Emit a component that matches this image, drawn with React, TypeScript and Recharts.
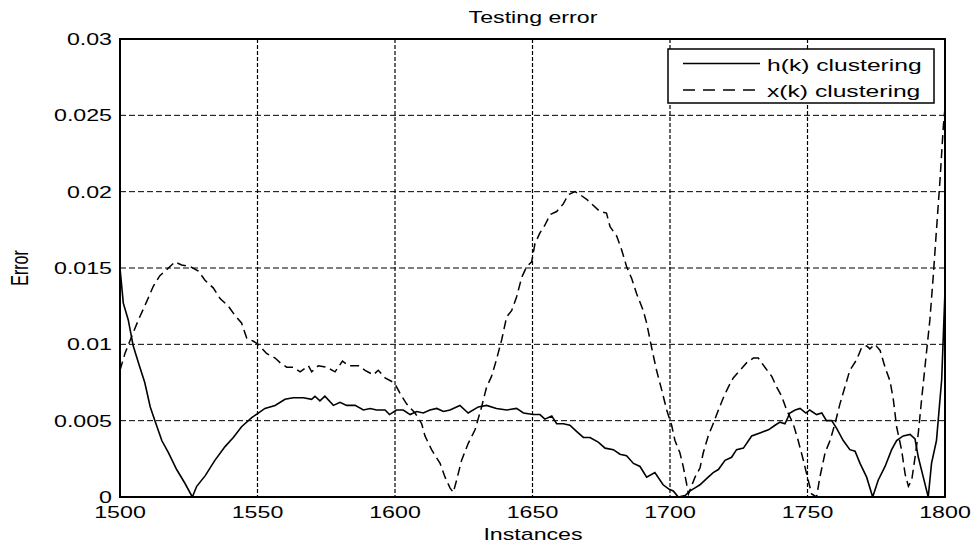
import {
  LineChart,
  Line,
  XAxis,
  YAxis,
  CartesianGrid,
  Legend,
  ReferenceArea,
} from "recharts";

// h(k) clustering (solid)
const hInstances = [
  1500, 1501.2, 1503, 1504.8, 1506.7, 1509, 1511, 1512.7, 1515.2, 1517.6,
  1520.6, 1523.6, 1526.3, 1527.9, 1531, 1534.5, 1538.2, 1541.2, 1544.2, 1547.9,
  1550.3, 1552.7, 1556.4, 1560, 1563, 1566.7, 1569.7, 1570.9, 1572.7, 1574.5,
  1577.6, 1580, 1582.4, 1585.5, 1588.5, 1591, 1593.3, 1596.4, 1598, 1600.5,
  1603, 1605.5, 1607.9, 1610.3, 1612.7, 1615.2, 1617.6, 1620, 1623.6, 1626.6,
  1630.3, 1633.3, 1636.9, 1640.6, 1644.2, 1646.7, 1650.3, 1652.7, 1654.5, 1657,
  1658.8, 1661.2, 1663.6, 1666, 1668.5, 1670.9, 1673.9, 1676.4, 1679.4, 1681.8,
  1684.2, 1686.7, 1689.1, 1691.5, 1694.5, 1697.5, 1699.7, 1701.2, 1703, 1705.5,
  1707.3, 1709.1, 1710.9, 1713.3, 1715.7, 1717.6, 1720, 1722.4, 1724.2, 1726.7,
  1729.7, 1732.7, 1735.8, 1738.2, 1740, 1741.8, 1743.6, 1745.5, 1747.3, 1749.4,
  1750.8, 1753.3, 1755.2, 1756.9, 1758.8, 1760.6, 1763, 1765.4, 1767.3, 1769.1,
  1771.5, 1773.7, 1775.7, 1778.2, 1780.6, 1782.4, 1784.8, 1787.3, 1789.1, 1790.3,
  1792.1, 1793.9, 1795.1, 1796.9, 1798.8, 1800,
];
const hValues = [
  0.015, 0.0127, 0.0116, 0.0099, 0.0088, 0.0075, 0.0059, 0.005, 0.0037, 0.0029,
  0.0018, 0.0009, 0.0, 0.0007, 0.0014, 0.0024, 0.0033, 0.0039, 0.0046, 0.0052,
  0.0055, 0.0058, 0.006, 0.0064, 0.0065, 0.0065, 0.0064, 0.0066, 0.0063, 0.0066,
  0.006, 0.0062, 0.006, 0.006, 0.0057, 0.0058, 0.0057, 0.0057, 0.0054, 0.0057,
  0.0057, 0.0054, 0.0056, 0.0055, 0.0057, 0.0058, 0.0056, 0.0057, 0.006, 0.0055,
  0.0059, 0.006, 0.0058, 0.0057, 0.0058, 0.0055, 0.0054, 0.0054, 0.0051, 0.0053,
  0.0048, 0.0048, 0.0047, 0.0043, 0.0039, 0.0039, 0.0036, 0.0032, 0.0031, 0.0028,
  0.0027, 0.0022, 0.002, 0.0013, 0.0016, 0.0008, 0.0005, 0.0004, 0.0, 0.0001,
  0.0004, 0.0006, 0.0008, 0.0012, 0.0016, 0.0018, 0.0024, 0.0026, 0.0031, 0.0032,
  0.004, 0.0042, 0.0044, 0.0047, 0.0049, 0.0048, 0.0055, 0.0057, 0.0058, 0.0055,
  0.0057, 0.0054, 0.0055, 0.005, 0.005, 0.0045, 0.0037, 0.0031, 0.003, 0.0022,
  0.0013, 0.0, 0.0011, 0.002, 0.0031, 0.0037, 0.004, 0.0041, 0.0038, 0.0026,
  0.0013, 0.0, 0.0022, 0.0037, 0.0077, 0.0135,
];

// x(k) clustering (dashed)
const xInstances = [
  1500, 1501.8, 1504.2, 1506.7, 1509.7, 1512.1, 1514.5, 1517.6, 1520, 1522.4,
  1525.5, 1528.5, 1530.9, 1533.9, 1536.4, 1539.4, 1541.8, 1544.2, 1546.1, 1548.5,
  1550.3, 1553.3, 1556.4, 1558.2, 1560.6, 1563, 1565.5, 1568.5, 1569.7, 1572.1,
  1575.2, 1578.2, 1580.9, 1583.1, 1586.7, 1589.1, 1592.1, 1593.9, 1596.4, 1598.5,
  1600, 1601.8, 1604.2, 1607.3, 1609.7, 1610.9, 1613.3, 1616.4, 1618.2, 1620,
  1621.2, 1622.4, 1624.2, 1626.6, 1629.1, 1631.5, 1633.3, 1635.1, 1636.9, 1638.8,
  1640.6, 1642.4, 1644.2, 1646.1, 1647.9, 1649.7, 1650.9, 1652.7, 1654.5, 1656.4,
  1658.8, 1661.2, 1663, 1665.5, 1667.3, 1669.7, 1671.5, 1674.5, 1676.9, 1678.2,
  1680.6, 1682.4, 1684.2, 1686.1, 1687.9, 1690.3, 1691.5, 1693.3, 1695.1, 1697,
  1698.8, 1700.6, 1701.8, 1703.6, 1704.8, 1706, 1706.7, 1709.1, 1710.9, 1712.1,
  1713.9, 1715.7, 1717.6, 1719.4, 1721.2, 1723, 1725.5, 1727.9, 1730.3, 1732.1,
  1734.5, 1737, 1738.8, 1740.6, 1742.4, 1744.8, 1746.6, 1748.5, 1749.7, 1751.5,
  1753.3, 1754.5, 1756.4, 1758.2, 1760, 1761.8, 1763.6, 1765.4, 1767.9, 1769.7,
  1771.5, 1772.7, 1774.5, 1776.4, 1778.2, 1780, 1781.2, 1782.4, 1784.2, 1785.5,
  1786.7, 1787.9, 1789.1, 1790.3, 1791.5, 1792.7, 1794.5, 1795.7, 1796.9, 1798.2,
  1799.4, 1800,
];
const xValues = [
  0.0083, 0.0094, 0.0105, 0.0116, 0.0128, 0.0138, 0.0145, 0.015, 0.0154, 0.0152,
  0.0151, 0.0148, 0.0142, 0.0137, 0.013, 0.0125, 0.0119, 0.0114, 0.0104, 0.0102,
  0.01, 0.0094, 0.0091, 0.0088, 0.0085, 0.0085, 0.0082, 0.0086, 0.0082, 0.0086,
  0.0085, 0.0082, 0.0089, 0.0086, 0.0086, 0.0083, 0.008, 0.0083, 0.0078, 0.0076,
  0.0074, 0.0068, 0.0061, 0.0055, 0.0048, 0.004, 0.0031, 0.0022, 0.0013, 0.0006,
  0.0003, 0.0011, 0.0024, 0.0035, 0.0044, 0.0059, 0.0072, 0.0079, 0.009, 0.0103,
  0.0118, 0.0122, 0.0131, 0.0144, 0.0151, 0.0154, 0.0166, 0.0173, 0.0178, 0.0185,
  0.0187, 0.0192, 0.0198, 0.02, 0.0198, 0.0195, 0.0192, 0.0187, 0.0186, 0.0177,
  0.0171, 0.0162, 0.0151, 0.0143, 0.0133, 0.0122, 0.0114, 0.0098, 0.0083, 0.007,
  0.0057, 0.0047, 0.0037, 0.0029, 0.002, 0.0009, 0.0002, 0.0013, 0.0019, 0.0029,
  0.004, 0.0048, 0.0057, 0.0065, 0.0072, 0.0078, 0.0083, 0.0088, 0.0091, 0.0091,
  0.0085, 0.0079, 0.0072, 0.0066, 0.0057, 0.0048, 0.0037, 0.0024, 0.0015, 0.0002,
  0.0, 0.0013, 0.0029, 0.0037, 0.0048, 0.0061, 0.0072, 0.0083, 0.009, 0.0098,
  0.0099, 0.0097, 0.01, 0.0096, 0.0085, 0.0076, 0.0064, 0.0046, 0.0031, 0.0015,
  0.0007, 0.0011, 0.0026, 0.0042, 0.0064, 0.0085, 0.0116, 0.0144, 0.0175, 0.0208,
  0.0243, 0.0255,
];

const xTicks = [1500, 1550, 1600, 1650, 1700, 1750, 1800];
const yTicks = [0, 0.005, 0.01, 0.015, 0.02, 0.025, 0.03];

const FONT = "'Liberation Sans', Arial, sans-serif";
const STRETCH = 1.45; // the original figure is widened horizontally

const hData = hInstances.map((x, i) => ({ x, h: hValues[i] }));
const xData = xInstances.map((x, i) => ({ x, xk: xValues[i] }));

function XTick({ x, y, payload }: any) {
  return (
    <text
      transform={`translate(${x},${y + 13}) scale(${STRETCH},1)`}
      textAnchor="middle"
      fontSize={16}
      fontFamily={FONT}
      fill="#000"
    >
      {payload.value}
    </text>
  );
}

function YTick({ x, y, payload }: any) {
  return (
    <text
      transform={`translate(${x},${y + 6}) scale(${STRETCH},1)`}
      textAnchor="end"
      fontSize={16}
      fontFamily={FONT}
      fill="#000"
    >
      {String(payload.value)}
    </text>
  );
}

function LegendBox() {
  return (
    <svg width={268} height={56} style={{ display: "block" }}>
      <rect x={1} y={1} width={266} height={54} fill="#fff" stroke="#000" strokeWidth={1.5} />
      <line x1={16} y1={15.5} x2={93} y2={15.5} stroke="#000" strokeWidth={1.3} />
      <line x1={16} y1={42} x2={93} y2={42} stroke="#000" strokeWidth={1.3} strokeDasharray="12 8" />
      <text transform={`translate(100,22.5) scale(${STRETCH},1)`} fontSize={17} fontFamily={FONT}>
        h(k) clustering
      </text>
      <text transform={`translate(100,49) scale(${STRETCH},1)`} fontSize={17} fontFamily={FONT}>
        x(k) clustering
      </text>
    </svg>
  );
}

export default function App() {
  return (
    <div style={{ position: "absolute", left: 0, top: 0, background: "#fff" }}>
      <LineChart
        width={977}
        height={548}
        margin={{ top: 39, right: 32, bottom: 0, left: 0 }}
      >
        <CartesianGrid
          horizontal={true}
          vertical={false}
          stroke="#000"
          strokeWidth={1}
          strokeDasharray="6 3"
        />
        <CartesianGrid
          horizontal={false}
          vertical={true}
          stroke="#000"
          strokeWidth={1.2}
          strokeDasharray="4 2"
        />
        <XAxis
          dataKey="x"
          type="number"
          domain={[1500, 1800]}
          ticks={xTicks}
          allowDataOverflow
          height={51}
          tickLine={false}
          axisLine={{ stroke: "#000", strokeWidth: 2 }}
          tick={<XTick />}
          interval={0}
        />
        <YAxis
          type="number"
          domain={[0, 0.03]}
          ticks={yTicks}
          allowDataOverflow
          width={120}
          tickLine={false}
          axisLine={{ stroke: "#000", strokeWidth: 2 }}
          tick={<YTick />}
          interval={0}
        />
        <ReferenceArea
          x1={1500}
          x2={1800}
          y1={0}
          y2={0.03}
          fill="none"
          stroke="#000"
          strokeWidth={2}
          ifOverflow="visible"
        />
        <Line
          data={hData}
          dataKey="h"
          type="linear"
          stroke="#000"
          strokeWidth={1.6}
          dot={false}
          isAnimationActive={false}
          name="h(k) clustering"
        />
        <Line
          data={xData}
          dataKey="xk"
          type="linear"
          stroke="#000"
          strokeWidth={1.5}
          strokeDasharray="9 5"
          dot={false}
          isAnimationActive={false}
          name="x(k) clustering"
        />
        <Legend
          layout="horizontal"
          verticalAlign="middle"
          align="center"
          content={<LegendBox />}
          wrapperStyle={{ position: "absolute", left: 667, top: 48, width: 268, height: 56 }}
        />
        <text
          transform={`translate(533,23) scale(${STRETCH},1)`}
          textAnchor="middle"
          fontSize={16}
          fontFamily={FONT}
        >
          Testing error
        </text>
        <text
          transform={`translate(533,540) scale(${STRETCH},1)`}
          textAnchor="middle"
          fontSize={16}
          fontFamily={FONT}
        >
          Instances
        </text>
        <text
          transform={`translate(28,268) scale(${STRETCH},1) rotate(-90)`}
          textAnchor="middle"
          fontSize={16}
          fontFamily={FONT}
        >
          Error
        </text>
      </LineChart>
    </div>
  );
}
